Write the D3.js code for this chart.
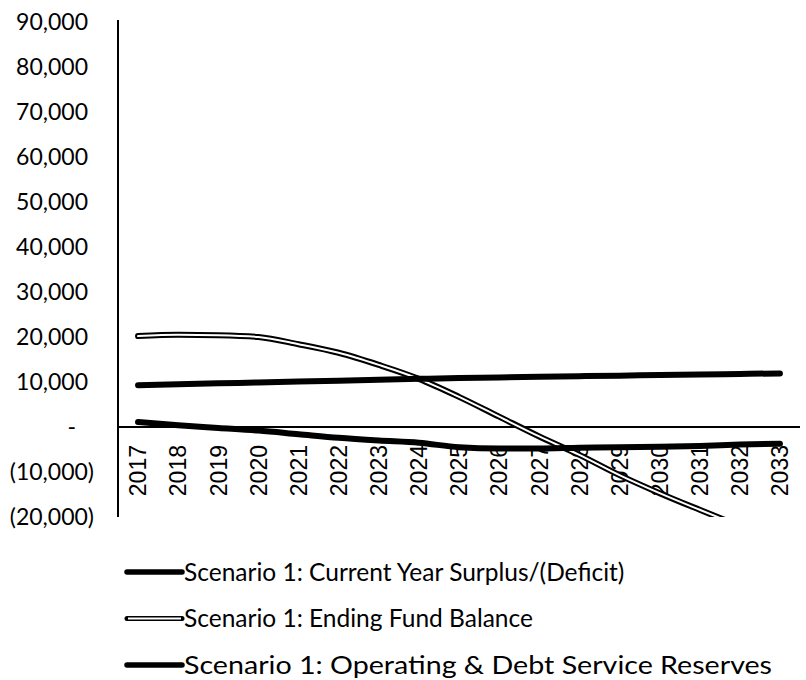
<!DOCTYPE html>
<html>
<head>
<meta charset="utf-8">
<script src="https://cdn.jsdelivr.net/npm/d3@7"></script>
<style>
  body { margin: 0; background: #fff; }
  svg { display: block; }
</style>
</head>
<body>
<svg width="806" height="680"></svg>
<script>
var years = ["2017", "2018", "2019", "2020", "2021", "2022", "2023", "2024", "2025",
    "2026", "2027", "2028", "2029", "2030", "2031", "2032", "2033"];

var surplus = [1100, 400, -200, -800, -1600, -2400, -3000, -3500, -4500,
    -4800, -4800, -4600, -4500, -4400, -4200, -3900, -3700];

var fundBalance = [20200, 20500, 20400, 20000, 18400, 16500, 13800, 10700, 6700,
    2300, -2100, -6200, -10700, -14700, -18400, -22000, -25500];

var reserves = [9300, 9500, 9700, 9900, 10100, 10300, 10500, 10700, 10900,
    11000, 11150, 11300, 11400, 11550, 11650, 11800, 11900];

var seriesNames = [
    "Scenario 1: Current Year Surplus/(Deficit)",
    "Scenario 1: Ending Fund Balance",
    "Scenario 1: Operating & Debt Service Reserves"];

var yTicks = [-20000, -10000, 0, 10000, 20000, 30000, 40000, 50000, 60000, 70000, 80000, 90000];

var svg = d3.select("svg"),
    plotLeft = 118, plotRight = 800, plotTop = 22, plotBottom = 517;

var x = d3.scaleBand().domain(years).range([plotLeft, plotRight]);
var y = d3.scaleLinear().domain([-20000, 90000]).range([plotBottom, plotTop]);

var cx = function (d) { return x(d) + x.bandwidth() / 2; };

var fmt = function (v) {
    if (v === 0) return "-";
    var s = d3.format(",")(Math.abs(v));
    return v < 0 ? "(" + s + ")" : s;
};

// y axis labels (accounting style alignment)
var yAxis = svg.append("g")
    .attr("transform", "translate(" + plotLeft + ",0)")
    .call(d3.axisLeft(y).tickValues(yTicks).tickSize(0).tickFormat(fmt));
yAxis.select(".domain").remove();
yAxis.selectAll("text")
    .attr("x", function (d) { return d < 0 ? -24 : d === 0 ? -42 : -30; })
    .attr("font-family", "Lato, 'Open Sans', sans-serif")
    .attr("font-size", "23px")
    .attr("fill", "#000");

// x axis labels rotated
var xAxis = svg.append("g")
    .attr("transform", "translate(0," + y(0) + ")")
    .call(d3.axisBottom(x).tickSize(0));
xAxis.select(".domain").remove();
xAxis.selectAll("text")
    .attr("transform", "rotate(-90)")
    .attr("x", -18)
    .attr("y", 0)
    .attr("dy", "0.36em")
    .style("text-anchor", "end")
    .attr("font-family", "'Liberation Sans', Arial, sans-serif")
    .attr("font-size", "23px")
    .attr("fill", "#000");

// axis lines
svg.append("line")
    .attr("x1", plotLeft).attr("x2", plotLeft)
    .attr("y1", plotTop - 2).attr("y2", plotBottom)
    .attr("stroke", "#000").attr("stroke-width", 2);
svg.append("line")
    .attr("x1", plotLeft).attr("x2", plotRight)
    .attr("y1", y(0)).attr("y2", y(0))
    .attr("stroke", "#000").attr("stroke-width", 2);

svg.append("clipPath").attr("id", "plot")
    .append("rect")
    .attr("x", plotLeft).attr("y", plotTop)
    .attr("width", plotRight - plotLeft).attr("height", plotBottom - plotTop);

var line = d3.line()
    .x(function (d, i) { return cx(years[i]); })
    .y(function (d) { return y(d); })
    .curve(d3.curveMonotoneX);

var lines = svg.append("g").attr("clip-path", "url(#plot)");

lines.append("path").datum(fundBalance)
    .attr("d", line).attr("fill", "none")
    .attr("stroke", "#000").attr("stroke-width", 6).attr("stroke-linecap", "round");
lines.append("path").datum(fundBalance)
    .attr("d", line).attr("fill", "none")
    .attr("stroke", "#fff").attr("stroke-width", 2).attr("stroke-linecap", "round");

lines.append("path").datum(reserves)
    .attr("d", line).attr("fill", "none")
    .attr("stroke", "#000").attr("stroke-width", 6).attr("stroke-linecap", "round");

lines.append("path").datum(surplus)
    .attr("d", line).attr("fill", "none")
    .attr("stroke", "#000").attr("stroke-width", 6).attr("stroke-linecap", "round");

// legend
var legend = svg.append("g")
    .selectAll("g")
    .data(seriesNames)
    .enter().append("g")
    .attr("transform", function (d, i) { return "translate(125," + (572 + i * 46.5) + ")"; });

legend.append("line")
    .attr("x1", 2).attr("x2", 57)
    .attr("stroke", "#000").attr("stroke-width", function (d, i) { return i === 1 ? 5 : 5.5; })
    .attr("stroke-linecap", "round");
legend.filter(function (d, i) { return i === 1; })
    .append("line")
    .attr("x1", 3).attr("x2", 56)
    .attr("stroke", "#fff").attr("stroke-width", 1.8);

legend.append("text")
    .attr("x", 59)
    .attr("dy", "0.35em")
    .attr("font-family", "Lato, 'Open Sans', sans-serif")
    .attr("font-size", "24.5px")
    .attr("fill", "#000")
    .text(function (d) { return d; });

// the last entry is drawn wider in the source scan
legend.filter(function (d, i) { return i === 2; }).select("text")
    .attr("textLength", 588)
    .attr("lengthAdjust", "spacingAndGlyphs");
</script>
</body>
</html>
